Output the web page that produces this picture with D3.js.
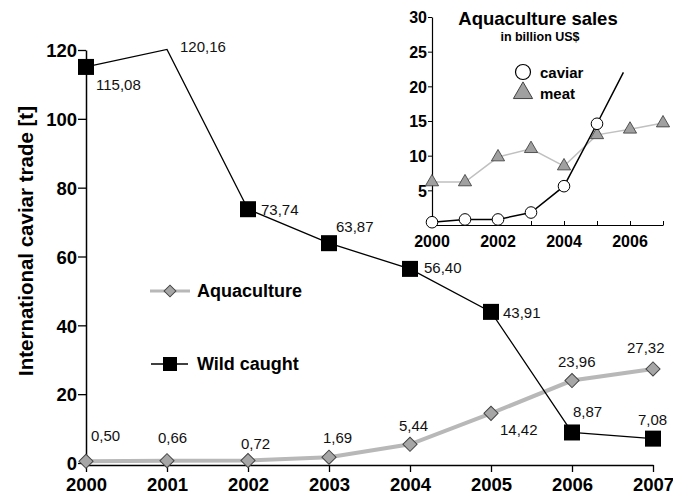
<!DOCTYPE html>
<html><head><meta charset="utf-8">
<script src="https://cdn.jsdelivr.net/npm/d3@7"></script>
<style>body{margin:0;background:#fff}svg{display:block;font-family:"Liberation Sans",Arial,Helvetica,sans-serif}</style>
</head><body><svg id="c" width="673" height="496"></svg>
<script>
const years = [2000,2001,2002,2003,2004,2005,2006,2007];
const wildCaught = [115.08,120.16,73.74,63.87,56.40,43.91,8.87,7.08];
const wildMarker = [true,false,true,true,true,true,true,true];
const aquaculture = [0.50,0.66,0.72,1.69,5.44,14.42,23.96,27.32];
const wildLabels = ["115,08","120,16","73,74","63,87","56,40","43,91","8,87","7,08"];
const aquaLabels = ["0,50","0,66","0,72","1,69","5,44","14,42","23,96","27,32"];
const yTicks = [0,20,40,60,80,100,120];
// inset
const insetCaviarYears = [2000,2001,2002,2003,2004,2005];
const insetCaviar = [0.4,0.8,0.8,1.8,5.6,14.6];
const caviarTrendEnd = [2005.8,22];
const insetMeatYears = [2000,2001,2002,2003,2004,2005,2006,2007];
const insetMeat = [6.2,6.2,9.8,11.0,8.5,13.0,13.8,14.7];
const insetYTicks = [5,10,15,20,25,30];
const insetXTicks = [2000,2002,2004,2006];

const svg = d3.select("#c");
const x = d3.scaleLinear().domain([2000,2007]).range([86,653]);
const y = d3.scaleLinear().domain([0,120]).range([463,50]);

// axes
const xAxis = svg.append("g").attr("transform",`translate(0,${y(0)+2})`)
  .call(d3.axisBottom(x).tickValues(years).tickFormat(d3.format("d")).tickSize(7).tickSizeOuter(0));
xAxis.select(".domain").attr("stroke","#000").attr("stroke-width",1.5);
xAxis.selectAll(".tick line").attr("stroke-width",1.3);
xAxis.selectAll("text").attr("font-size",18.5).attr("font-weight","bold").attr("fill","#000").attr("y",26).attr("dy",0);
const yAxis = svg.append("g").attr("transform",`translate(${x(2000)},0)`)
  .call(d3.axisLeft(y).tickValues(yTicks).tickSize(8).tickSizeOuter(0));
yAxis.select(".domain").attr("stroke-width",1.5);
yAxis.selectAll(".tick line").attr("stroke-width",1.3);
yAxis.selectAll("text").attr("font-size",18.5).attr("font-weight","bold").attr("fill","#000").attr("x",-9).attr("dy","0.36em");

svg.append("text").attr("transform","translate(33,241) rotate(-90)").attr("text-anchor","middle")
  .attr("font-size",20.5).attr("font-weight","bold").text("International caviar trade [t]");

// lines
const aquaData = years.map((yr,i)=>({yr,v:aquaculture[i],l:aquaLabels[i]}));
const wildData = years.map((yr,i)=>({yr,v:wildCaught[i],l:wildLabels[i],m:wildMarker[i]}));
const line = d3.line().x(d=>x(d.yr)).y(d=>y(d.v));
svg.append("path").datum(aquaData).attr("d",line).attr("fill","none").attr("stroke","#b8b8b8").attr("stroke-width",4);
svg.append("path").datum(wildData).attr("d",line).attr("fill","none").attr("stroke","#000").attr("stroke-width",1.3);

svg.selectAll(".dia").data(aquaData).join("path")
  .attr("d",d3.symbol().type(d3.symbolSquare).size(100)).attr("transform",d=>`translate(${x(d.yr)},${y(d.v)}) rotate(45)`)
  .attr("fill","#a6a6a6").attr("stroke","#444").attr("stroke-width",1);
svg.selectAll(".sq").data(wildData.filter(d=>d.m)).join("rect")
  .attr("x",d=>x(d.yr)-8).attr("y",d=>y(d.v)-8).attr("width",16).attr("height",16).attr("fill","#000");

const wildOff = [[10,23],[13,3],[13,6],[7,-11],[14,4],[12,6],[1,-15],[-15,-14]];
const aquaOff = [[5,-20],[-9,-18],[-7,-12],[-6,-14],[-11,-13],[9,22],[-14,-14],[-26,-16]];
svg.selectAll(".wl").data(wildData).join("text")
  .attr("x",(d,i)=>x(d.yr)+wildOff[i][0]).attr("y",(d,i)=>y(d.v)+wildOff[i][1])
  .attr("font-size",15).attr("fill","#111").text(d=>d.l);
svg.selectAll(".al").data(aquaData).join("text")
  .attr("x",(d,i)=>x(d.yr)+aquaOff[i][0]).attr("y",(d,i)=>y(d.v)+aquaOff[i][1])
  .attr("font-size",15).attr("fill","#111").text(d=>d.l);

// legend
const lg = svg.append("g");
lg.append("line").attr("x1",150).attr("x2",190).attr("y1",291).attr("y2",291).attr("stroke","#b8b8b8").attr("stroke-width",3);
lg.append("path").attr("d",d3.symbol().type(d3.symbolSquare).size(70)).attr("transform","translate(170,291) rotate(45)")
  .attr("fill","#a6a6a6").attr("stroke","#444");
lg.append("text").attr("x",197).attr("y",297).attr("font-size",18).attr("font-weight","bold").text("Aquaculture");
lg.append("line").attr("x1",151).attr("x2",188).attr("y1",364).attr("y2",364).attr("stroke","#000").attr("stroke-width",1.3);
lg.append("rect").attr("x",163).attr("y",357).attr("width",14).attr("height",14).attr("fill","#000");
lg.append("text").attr("x",197).attr("y",370).attr("font-size",18).attr("font-weight","bold").text("Wild caught");

// inset
const ix = d3.scaleLinear().domain([2000,2007]).range([432,663]);
const iy = d3.scaleLinear().domain([0,30]).range([225,17]);
const ixa = svg.append("g").attr("transform",`translate(0,${iy(0)})`)
  .call(d3.axisTop(ix).tickValues(years).tickFormat("").tickSize(4).tickSizeOuter(0));
ixa.select(".domain").attr("stroke-width",1.2);
svg.append("g").selectAll("text").data(insetXTicks).join("text")
  .attr("x",d=>ix(d)).attr("y",iy(0)+22).attr("text-anchor","middle")
  .attr("font-size",16).attr("font-weight","bold").text(d=>d);
const iya = svg.append("g").attr("transform",`translate(${ix(2000)},0)`)
  .call(d3.axisLeft(iy).tickValues(insetYTicks).tickSize(4).tickSizeOuter(0));
iya.select(".domain").attr("stroke-width",1.2);
iya.selectAll("text").attr("font-size",16).attr("font-weight","bold").attr("fill","#000").attr("x",-5).attr("dy","0.36em");

svg.append("text").attr("x",538).attr("y",25).attr("text-anchor","middle").attr("font-size",18.5).attr("font-weight","bold").text("Aquaculture sales");
svg.append("text").attr("x",540).attr("y",41).attr("text-anchor","middle").attr("font-size",12.5).attr("font-weight","bold").text("in billion US$");

const meatData = insetMeatYears.map((yr,i)=>({yr,v:insetMeat[i]}));
const cavData = insetCaviarYears.map((yr,i)=>({yr,v:insetCaviar[i]}));
const iline = d3.line().x(d=>ix(d.yr)).y(d=>iy(d.v));
svg.append("path").datum(meatData).attr("d",iline).attr("fill","none").attr("stroke","#c0c0c0").attr("stroke-width",1.5);
svg.append("path").datum(cavData.concat([{yr:caviarTrendEnd[0],v:caviarTrendEnd[1]}])).attr("d",iline)
  .attr("fill","none").attr("stroke","#000").attr("stroke-width",1.5);
const tri = d3.symbol().type(d3.symbolTriangle).size(75);
svg.selectAll(".tri").data(meatData).join("path").attr("d",tri)
  .attr("transform",d=>`translate(${ix(d.yr)},${iy(d.v)})`)
  .attr("fill","#a0a0a0").attr("stroke","#333").attr("stroke-width",0.8);
svg.selectAll(".cir").data(cavData).join("circle")
  .attr("cx",d=>ix(d.yr)).attr("cy",d=>iy(d.v)).attr("r",5.8)
  .attr("fill","#fff").attr("stroke","#000").attr("stroke-width",1);

svg.append("circle").attr("cx",523).attr("cy",72).attr("r",7.5).attr("fill","#fff").attr("stroke","#000").attr("stroke-width",1.2);
svg.append("text").attr("x",540).attr("y",78).attr("font-size",15).attr("font-weight","bold").text("caviar");
svg.append("path").attr("d",d3.symbol().type(d3.symbolTriangle).size(160)).attr("transform","translate(523,93)")
  .attr("fill","#a0a0a0").attr("stroke","#333").attr("stroke-width",0.9);
svg.append("text").attr("x",540).attr("y",99).attr("font-size",15).attr("font-weight","bold").text("meat");
</script></body></html>
